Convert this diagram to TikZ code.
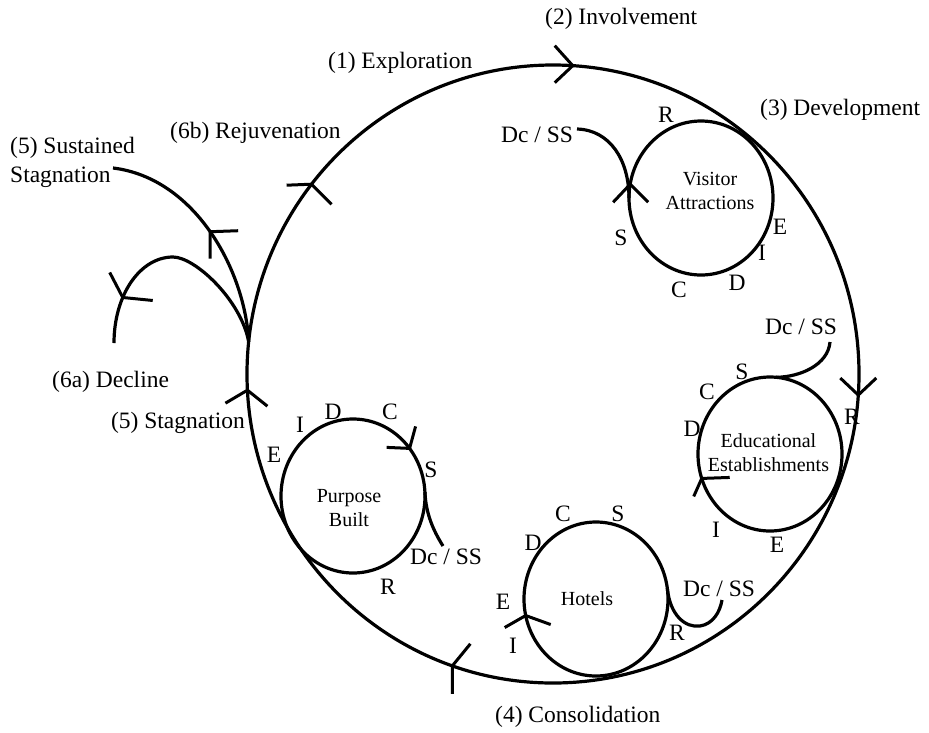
\documentclass[tikz,border=0pt]{standalone}
\usepackage{fontspec}
\setmainfont{Liberation Serif}
\usetikzlibrary{calc}
\begin{document}
\begin{tikzpicture}[x=1pt,y=-1pt,
  lbl/.style={font=\fontsize{23.5}{29}\selectfont, inner sep=0pt},
  inner/.style={font=\fontsize{20}{24}\selectfont, align=center, inner sep=0pt},
  curve/.style={line width=3.2pt},
  chev/.style={line width=3pt}]
\useasboundingbox (0,0) rectangle (929,732);

% centres
\coordinate (BC) at (553,374);
\coordinate (VAc) at (701,198);
\coordinate (EEc) at (770,454);
\coordinate (HOc) at (596,599);
\coordinate (PBc) at (353,496);

% main cycle and sub-cycles
\draw[curve] (BC) ellipse [x radius=306pt, y radius=309pt];
\draw[curve] (VAc) ellipse [x radius=72pt, y radius=77pt];
\draw[curve] (EEc) ellipse [x radius=72pt, y radius=77pt];
\draw[curve] (HOc) ellipse [x radius=72pt, y radius=77pt];
\draw[curve] (PBc) ellipse [x radius=72pt, y radius=77pt];

% inner texts
\node[inner] (va) at (710,190.5) {Visitor\\Attractions};
\node[inner] (ee) at (768.5,452.5) {Educational\\Establishments};
\node[inner] (ho) at (587,599) {Hotels};
\node[inner] (pb) at (349,508) {Purpose\\Built};

% stage labels
\node[lbl, anchor=west] (l2) at (545,19) {(2) Involvement};
\node[lbl, anchor=west] (l1) at (328,63) {(1) Exploration};
\node[lbl, anchor=west] (l3) at (760,110) {(3) Development};
\node[lbl, anchor=west] (l6b) at (170,133) {(6b) Rejuvenation};
\node[lbl, anchor=west, align=left] (l5s) at (10,162) {(5) Sustained\\Stagnation};
\node[lbl, anchor=west] (l6a) at (52,382) {(6a) Decline};
\node[lbl, anchor=east] (l5) at (245,423) {(5) Stagnation};
\node[lbl, anchor=west] (l4) at (495,717) {(4) Consolidation};

% Dc / SS labels
\node[lbl, anchor=west] (dva) at (501,135) {Dc / SS};
\node[lbl, anchor=west] (dee) at (765,327) {Dc / SS};
\node[lbl, anchor=west] (dho) at (683,589) {Dc / SS};
\node[lbl, anchor=west] (dpb) at (410,557) {Dc / SS};

% letters: Visitor Attractions
\node[lbl] (vaR) at (666,115) {R};
\node[lbl] (vaS) at (621,238) {S};
\node[lbl] (vaC) at (679,290) {C};
\node[lbl] (vaD) at (737,283) {D};
\node[lbl] (vaI) at (762,253) {I};
\node[lbl] (vaE) at (780,227) {E};
% Educational Establishments
\node[lbl] (eeS) at (742,372) {S};
\node[lbl] (eeC) at (707,392) {C};
\node[lbl] (eeD) at (692,429) {D};
\node[lbl] (eeR) at (852,417) {R};
\node[lbl] (eeI) at (716,530) {I};
\node[lbl] (eeE) at (777,545) {E};
% Hotels
\node[lbl] (hoC) at (563,514) {C};
\node[lbl] (hoS) at (618,514) {S};
\node[lbl] (hoD) at (533,543) {D};
\node[lbl] (hoE) at (503,602) {E};
\node[lbl] (hoI) at (513,646) {I};
\node[lbl] (hoR) at (677,633) {R};
% Purpose Built
\node[lbl] (pbD) at (333,412) {D};
\node[lbl] (pbC) at (390,412) {C};
\node[lbl] (pbI) at (300,425) {I};
\node[lbl] (pbE) at (274,455) {E};
\node[lbl] (pbS) at (431,470) {S};
\node[lbl] (pbR) at (388,587) {R};

% branch point on the main cycle
\coordinate (J) at ($(BC)+(186:306 and 309)$);

% Sustained stagnation branch
\draw[curve] (J) .. controls (245,270) and (195,178) .. (113,168)
  coordinate[pos=0.5] (tS);
% Decline branch
\draw[curve] (J) .. controls (241,300) and (195,257) .. (173,257)
  .. controls (140,257) and (114,295) .. (114,343)
  coordinate[pos=0.65] (tD);

% Dc / SS exits of the sub-cycles
\coordinate (vaL) at ($(VAc)+(180:72 and 77)$);
\draw[curve] (vaL) .. controls (629,160) and (610,130) .. (577,129);
\coordinate (eeT) at ($(EEc)+(-85:72 and 77)$);
\draw[curve] (eeT) .. controls (800,377) and (828,365) .. (830,342);
\coordinate (hoRt) at ($(HOc)+(-8:72 and 77)$);
\draw[curve] (hoRt) .. controls (670,615) and (685,628) .. (700,626)
  .. controls (713,624) and (720,612) .. (722,600);
\coordinate (pbRt) at ($(PBc)+(-3:72 and 77)$);
\draw[curve] (pbRt) .. controls (426,514) and (433,530) .. (443,546);

% chevrons on the main cycle
\coordinate (t1) at ($(BC)+(-86.3:306 and 309)$);
\coordinate (t2) at ($(BC)+(3.9:306 and 309)$);
\coordinate (t3) at ($(BC)+(109.2:306 and 309)$);
\coordinate (t4) at ($(BC)+(177:306 and 309)$);
\coordinate (t5) at ($(BC)+(217.9:306 and 309)$);
\draw[chev] (t1) ++(-18,-20) -- (t1) -- ++(-18,17);
\draw[chev] (t2) ++(-18,-17) -- (t2) -- ++(18,-17);
\draw[chev] (t3) ++(18,-22) -- (t3) -- ++(0,28);
\draw[chev] (t4) ++(-22,13) -- (t4) -- ++(20,16);
\draw[chev] (t5) ++(-25,1) -- (t5) -- ++(20,20);
% chevrons on the branches
\draw[chev] (tS) ++(0,27) -- (tS) -- ++(28,-1);
\draw[chev] (tD) ++(-13,-25) -- (tD) -- ++(30,3);
% chevrons on the sub-cycles
\coordinate (t8) at ($(VAc)+(190.3:72 and 77)$);
\coordinate (t9) at ($(EEc)+(161.5:72 and 77)$);
\coordinate (t10) at ($(HOc)+(167.6:72 and 77)$);
\coordinate (t11) at ($(PBc)+(-38.2:72 and 77)$);
\draw[chev] (t8) ++(-17,18) -- (t8) -- ++(18,18);
\draw[chev] (t9) ++(-8,18) -- (t9) -- ++(28,-1);
\draw[chev] (t10) ++(-21,12) -- (t10) -- ++(25,9);
\draw[chev] (t11) ++(-23,-1) -- (t11) -- ++(6,-22);
\end{tikzpicture}
\end{document}
